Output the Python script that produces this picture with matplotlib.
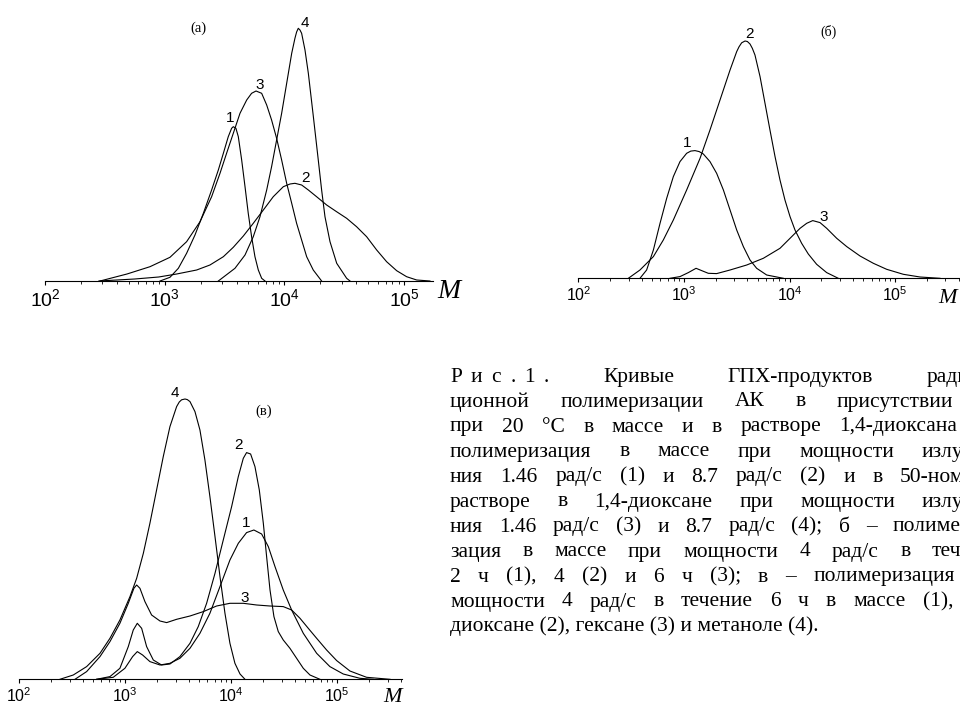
import numpy as np
import matplotlib
matplotlib.use("Agg")
import matplotlib.pyplot as plt
from matplotlib.ticker import LogLocator, FuncFormatter, NullFormatter

plt.rcParams['mathtext.fontset'] = 'custom'
plt.rcParams['mathtext.rm'] = 'Liberation Sans'
plt.rcParams['mathtext.it'] = 'Liberation Sans:italic'
plt.rcParams['font.family'] = ['Liberation Sans', 'DejaVu Sans']

# ---------------- Panel (a) ----------------
A1_LOGM = [2.961, 3.044, 3.114, 3.183, 3.253, 3.323, 3.392, 3.448, 3.490, 3.531, 3.559, 3.573,
           3.595, 3.615, 3.643, 3.671, 3.698, 3.726, 3.754, 3.782, 3.810, 3.838]
A1_H = [0, 3.7, 12.7, 27.7, 46, 67.7, 91, 111, 127.7, 144.3, 152.7, 154.3,
        152.7, 144.3, 121, 94.3, 67.7, 44.3, 24.3, 11, 2.7, 0]

A2_LOGM = [2.45, 2.75, 2.95, 3.10, 3.267, 3.378, 3.490, 3.573, 3.657, 3.740, 3.824, 3.907, 3.991,
           4.047, 4.088, 4.144, 4.200, 4.269, 4.353, 4.436, 4.520, 4.603, 4.687, 4.771, 4.854,
           4.938, 5.021, 5.105, 5.216]
A2_H = [0, 2, 4, 7, 11, 16, 24.3, 33.7, 45, 57.7, 71, 84.3, 94.3,
        97, 97.7, 96, 91, 84.3, 76, 69.3, 62.7, 54.3, 44.3, 31, 19.3,
        10.3, 4.3, 1, 0]

A3_LOGM = [2.46, 2.685, 2.877, 3.044, 3.183, 3.295, 3.392, 3.462, 3.517, 3.573, 3.629, 3.685,
           3.726, 3.763, 3.810, 3.852, 3.893, 3.935, 3.977, 4.019, 4.061, 4.102, 4.144, 4.186,
           4.241, 4.311]
A3_H = [0, 7, 14.3, 23.7, 39.3, 59.3, 84.3, 107.7, 127.7, 147.7, 167.7, 181,
        187.7, 190, 187.7, 176, 161, 142.7, 121, 97.7, 77.7, 57.7, 41, 24.3,
        11, 0]

A4_LOGM = [3.448, 3.587, 3.671, 3.740, 3.796, 3.852, 3.893, 3.935, 3.977, 4.019, 4.061, 4.088,
           4.102, 4.116, 4.130, 4.144, 4.172, 4.200, 4.242, 4.283, 4.311, 4.339, 4.381, 4.437,
           4.520, 4.548]
A4_H = [0, 12.7, 26, 44.3, 64.3, 91, 114.3, 141, 167.7, 197.7, 227.7, 242.7,
        249, 252.7, 251, 247.7, 231, 207.7, 164.3, 121, 91, 64.3, 39.3, 17.7,
        2.7, 0]

# ---------------- Panel (б) ----------------
B1_LOGM = [2.584, 2.647, 2.711, 2.774, 2.837, 2.900, 2.963, 3.026, 3.065, 3.105, 3.145, 3.184,
           3.247, 3.310, 3.374, 3.437, 3.500, 3.563, 3.626, 3.689, 3.784, 3.942]
B1_H = [0, 8.3, 28.3, 55, 80, 101.7, 116.7, 125, 127.2, 127.7, 126.7, 124.3,
        116.7, 105, 88.3, 68.3, 48.3, 31.7, 18.3, 10, 3.3, 0]

B2_LOGM = [2.474, 2.584, 2.711, 2.805, 2.900, 3.026, 3.153, 3.247, 3.342, 3.437, 3.500, 3.522,
           3.547, 3.579, 3.601, 3.626, 3.648, 3.673, 3.721, 3.768, 3.815, 3.863, 3.910, 3.957,
           4.005, 4.052, 4.115, 4.178, 4.257, 4.352, 4.462]
B2_H = [0, 8.3, 21.7, 38.3, 58.3, 88.3, 120, 148.3, 178.3, 208.3, 226.7, 231.5,
        235.5, 237.3, 236.8, 234.3, 230, 223.3, 201.7, 175, 148.3, 121.7, 98.3, 78.3,
        61.7, 48.3, 35, 24.3, 14, 5.7, 0]

B3_LOGM = [2.868, 2.963, 3.042, 3.115, 3.168, 3.231, 3.310, 3.437, 3.595, 3.752, 3.910, 4.005,
           4.100, 4.163, 4.220, 4.289, 4.352, 4.447, 4.542, 4.668, 4.794, 4.920, 5.078, 5.236,
           5.425]
B3_H = [0, 1.7, 5.7, 10, 7.7, 5, 4.7, 8.3, 13.3, 20, 30, 40,
        50, 55, 57.7, 55.7, 50, 40, 31.7, 22.3, 15, 9, 4, 1.3,
        0]

# ---------------- Panel (в) ----------------
C1_LOGM = [2.732, 2.889, 2.999, 3.072, 3.116, 3.166, 3.235, 3.330, 3.424, 3.518, 3.613, 3.707,
           3.801, 3.896, 3.990, 4.069, 4.147, 4.216, 4.289, 4.352, 4.415, 4.493, 4.572, 4.682,
           4.808, 4.933, 5.059, 5.216, 5.342]
C1_H = [0, 2, 11, 22.7, 27.7, 24.3, 17.7, 14.3, 16, 21, 31, 46,
        66, 92.7, 119.3, 136, 146.7, 149.3, 145.3, 132.7, 112.7, 89.3, 69.3, 46,
        26, 12.7, 5.3, 1, 0]

C2_LOGM = [2.732, 2.858, 2.952, 3.031, 3.078, 3.116, 3.157, 3.204, 3.267, 3.345, 3.424, 3.518,
           3.613, 3.691, 3.770, 3.849, 3.927, 4.006, 4.069, 4.116, 4.147, 4.185, 4.226, 4.267,
           4.305, 4.336, 4.368, 4.405, 4.446, 4.493, 4.556, 4.619, 4.682, 4.745, 4.839]
C2_H = [0, 2.7, 11, 32.7, 49.3, 56, 51, 32.7, 19.3, 14.3, 15.3, 22.7,
        36, 52.7, 76, 106, 139.3, 172.7, 202.7, 221, 226.7, 225.3, 212.7, 189.3,
        156, 122.7, 89.3, 62.7, 47.7, 39.3, 31, 21, 11, 4.3, 0]

C3_LOGM = [2.528, 2.638, 2.764, 2.858, 2.952, 3.031, 3.084, 3.110, 3.141, 3.188, 3.251, 3.330,
           3.393, 3.487, 3.613, 3.739, 3.864, 3.990, 4.116, 4.242, 4.367, 4.493, 4.572, 4.651,
           4.729, 4.808, 4.902, 4.997, 5.122, 5.279, 5.500]
C3_H = [0, 7.7, 22.7, 37.7, 56, 76, 91, 94.3, 91, 77.7, 64.3, 58.3,
        56.7, 60, 63.3, 67.7, 73.3, 76, 76, 74.3, 73.3, 72.7, 69.3, 61,
        51, 41, 29.3, 18.7, 8.3, 2, 0]

C4_LOGM = [2.386, 2.512, 2.638, 2.764, 2.858, 2.952, 3.047, 3.110, 3.173, 3.235, 3.298, 3.361,
           3.424, 3.487, 3.512, 3.534, 3.566, 3.588, 3.613, 3.660, 3.707, 3.754, 3.801, 3.849,
           3.896, 3.943, 3.990, 4.037, 4.085, 4.132]
C4_H = [0, 4.3, 12.7, 26, 41, 59.3, 82.7, 101, 126, 156, 189.3, 222.7,
        252.7, 272.7, 277.3, 279.5, 280.3, 279.7, 277.7, 267.7, 249.3, 219.3, 182.7, 142.7,
        102.7, 66, 36, 16, 5.3, 0]

TICK_EXPONENTS = [2, 3, 4, 5]

CAPTION_SPACED = "Рис.1."
CAPTION_LINES = [
    ["Кривые", "ГПХ-продуктов", "радиа-"],
    ["ционной", "полимеризации", "АК", "в", "присутствии"],
    ["при", "20", "°С", "в", "массе", "и", "в", "растворе", "1,4-диоксана"],
    ["полимеризация", "в", "массе", "при", "мощности", "излуче-"],
    ["ния", "1.46", "рад/с", "(1)", "и", "8.7", "рад/с", "(2)", "и", "в", "50-ном"],
    ["растворе", "в", "1,4-диоксане", "при", "мощности", "излуче-"],
    ["ния", "1.46", "рад/с", "(3)", "и", "8.7", "рад/с", "(4);", "б", "–", "полимери-"],
    ["зация", "в", "массе", "при", "мощности", "4", "рад/с", "в", "течение"],
    ["2", "ч", "(1),", "4", "(2)", "и", "6", "ч", "(3);", "в", "–", "полимеризация"],
    ["мощности", "4", "рад/с", "в", "течение", "6", "ч", "в", "массе", "(1),"],
    ["диоксане (2), гексане (3) и метаноле (4)."],
]
# ('s', x): last listed word starts at pixel x; ('e', x): it ends at pixel x
CAPTION_ANCHORS = [('s', 927), ('e', 953), ('e', 957), ('s', 922), ('s', 900), ('s', 922),
                   ('s', 893), ('s', 932), ('e', 955), ('e', 953), None]

W, H = 960, 708
fig = plt.figure(figsize=(W / 100, H / 100), dpi=100)


def px_axes(x0, x1, ybase, ytop):
    return fig.add_axes([x0 / W, (H - ybase) / H, (x1 - x0) / W, (ybase - ytop) / H])


def style_axis(ax, xmax_log, ymax, label_size, pad):
    ax.set_xscale('log')
    ax.set_xlim(1e2, 10 ** xmax_log)
    ax.set_ylim(0, ymax)
    for s in ['top', 'left', 'right']:
        ax.spines[s].set_visible(False)
    ax.spines['bottom'].set_linewidth(0.8)
    ax.yaxis.set_visible(False)
    ax.xaxis.set_major_locator(LogLocator(base=10, numticks=10))
    ax.xaxis.set_minor_locator(LogLocator(base=10, subs=np.arange(2, 10), numticks=10))
    ax.xaxis.set_minor_formatter(NullFormatter())
    ax.xaxis.set_major_formatter(FuncFormatter(
        lambda v, p: r'$\mathregular{10^{%d}}$' % int(round(np.log10(v)))
        if int(round(np.log10(v))) in TICK_EXPONENTS else ''))
    ax.tick_params(axis='x', which='major', direction='out', length=3, width=0.8,
                   labelsize=label_size, pad=pad)
    ax.tick_params(axis='x', which='minor', direction='out', length=1.8, width=0.6)
    ax.patch.set_visible(False)


def draw(ax, logm, h):
    ax.plot(10 ** np.asarray(logm), h, color='black', lw=0.8, clip_on=False,
            solid_joinstyle='round')


def lab(ax, lx, ly, s, size=11):
    ax.text(10 ** lx, ly, s, ha='center', va='center', fontsize=size, clip_on=False)


# Panel (a): baseline y=281, 10^2 at x=45, decade 119.7 px
axa = px_axes(45, 433, 281, 21)
style_axis(axa, 2 + (433 - 45) / 119.7, 260, 14, 2)
draw(axa, A1_LOGM, A1_H)
draw(axa, A2_LOGM, A2_H)
draw(axa, A3_LOGM, A3_H)
draw(axa, A4_LOGM, A4_H)
lab(axa, 3.546, 162.7, '1')
lab(axa, 3.796, 196, '3')
lab(axa, 4.172, 257.7, '4')
lab(axa, 4.180, 103, '2')
axa.text(10 ** 3.281, 252.7, '(a)', ha='center', va='center', fontsize=10.5,
         family='Liberation Serif')
fig.text(449 / W, 1 - 291 / H, 'M', ha='center', va='center', fontsize=20,
         family='Liberation Serif', style='italic')

# Panel (б): baseline y=278.3, 10^2 at x=578.3, decade 105.6 px
axb = px_axes(578.3, 960, 278.3, 28.3)
style_axis(axb, 2 + (960 - 578.3) / 105.6, 250, 11.5, 2)
draw(axb, B1_LOGM, B1_H)
draw(axb, B2_LOGM, B2_H)
draw(axb, B3_LOGM, B3_H)
lab(axb, 3.026, 135.7, '1')
lab(axb, 3.621, 244.3, '2')
lab(axb, 4.320, 61, '3')
axb.text(10 ** 4.367, 246.7, '(б)', ha='center', va='center', fontsize=10,
         family='Liberation Serif')
fig.text(948 / W, 1 - 298 / H, 'M', ha='center', va='center', fontsize=16,
         family='Liberation Serif', style='italic')

# Panel (в): baseline y=679.3, 10^2 at x=19, decade 106 px
axc = px_axes(19, 401.7, 679.3, 384.3)
style_axis(axc, 2 + (401.7 - 19) / 106, 295, 11.5, 2)
draw(axc, C1_LOGM, C1_H)
draw(axc, C2_LOGM, C2_H)
draw(axc, C3_LOGM, C3_H)
draw(axc, C4_LOGM, C4_H)
lab(axc, 3.472, 286, '4')
lab(axc, 4.069, 234.3, '2')
lab(axc, 4.142, 156, '1')
lab(axc, 4.132, 81, '3')
axc.text(10 ** 4.305, 267.6, '(в)', ha='center', va='center', fontsize=10.5,
         family='Liberation Serif')
fig.text(393 / W, 1 - 697 / H, 'M', ha='center', va='center', fontsize=16,
         family='Liberation Serif', style='italic')

# Caption (justified, clipped by the right edge of the picture)
CAP_SIZE = 15.5
CAP_X0 = 450
CAP_Y0 = 381.5
CAP_DY = 25
CAP_FONT = 'Liberation Serif'
renderer = fig.canvas.get_renderer()


def word_width(s):
    t = fig.text(0, 0, s, fontsize=CAP_SIZE, family=CAP_FONT)
    w = t.get_window_extent(renderer).width
    t.remove()
    return w


def put(x, yb, s):
    fig.text(x / W, 1 - yb / H, s, fontsize=CAP_SIZE, family=CAP_FONT,
             va='baseline', ha='left')


for i, words in enumerate(CAPTION_LINES):
    yb = CAP_Y0 + i * CAP_DY
    x0 = CAP_X0
    if i == 0:
        # letter-spaced "Р и с . 1 ." group
        track = 9
        for ch in CAPTION_SPACED:
            put(x0, yb, ch)
            x0 += word_width(ch) + track
        x0 -= track
    anchor = CAPTION_ANCHORS[i]
    if anchor is None:
        put(x0, yb, ' '.join(words))
        continue
    widths = [word_width(w) for w in words]
    kind, ax_ = anchor
    last_start = ax_ if kind == 's' else ax_ - widths[-1]
    ngaps = len(words) - 1 + (1 if i == 0 else 0)
    gap = (last_start - x0 - sum(widths[:-1])) / ngaps
    x = x0 + (gap if i == 0 else 0)
    for w, wd in zip(words, widths):
        put(x, yb, w)
        x += wd + gap

fig.savefig('out.png', dpi=100)
